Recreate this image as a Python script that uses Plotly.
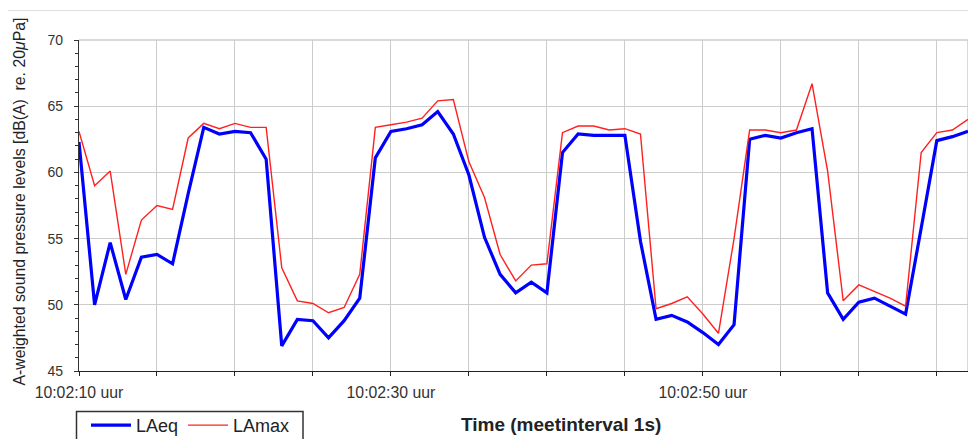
import plotly.graph_objects as go

# seconds after 10:02:10
seconds = list(range(58))

laeq = [62.3, 50.0, 54.7, 50.4, 53.6, 53.8, 53.1, 58.4, 63.4, 62.9,
        63.1, 63.0, 61.0, 46.9, 48.9, 48.8, 47.5, 48.8, 50.5, 61.1,
        63.1, 63.3, 63.6, 64.6, 62.9, 59.8, 55.1, 52.3, 50.9, 51.7,
        50.9, 61.5, 62.9, 62.8, 62.8, 62.8, 54.8, 48.9, 49.2, 48.7,
        47.9, 47.0, 48.5, 62.5, 62.8, 62.6, 63.0, 63.3, 50.9, 48.9,
        50.2, 50.5, 49.9, 49.3, 55.8, 62.4, 62.7, 63.1]

lamax = [63.1, 59.0, 60.1, 52.3, 56.4, 57.5, 57.2, 62.6, 63.7, 63.3,
         63.7, 63.4, 63.4, 52.8, 50.3, 50.1, 49.4, 49.8, 52.3, 63.4,
         63.6, 63.8, 64.1, 65.4, 65.5, 60.8, 58.1, 53.8, 51.8, 53.0,
         53.1, 63.0, 63.5, 63.5, 63.2, 63.3, 62.9, 49.7, 50.1, 50.6,
         49.3, 47.85, 55.0, 63.2, 63.2, 63.0, 63.2, 66.7, 60.1, 50.3,
         51.5, 51.0, 50.5, 49.9, 61.5, 63.0, 63.2, 64.0]

tick_vals = [0, 5, 10, 15, 20, 25, 30, 35, 40, 45, 50, 55]
tick_text = ["10:02:10 uur", "", "", "", "10:02:30 uur", "", "", "",
             "10:02:50 uur", "", "", ""]

# page body has an 8px margin: the figure sits at (8, 8) in the window
OFF = 8
SW, SH = 976, 439
W, H = SW - OFF, SH - OFF
# plot area in window pixels
L, R, T, B = 79, 968, 39.5, 371.5


def px(x):
    return (x - L) / (R - L)


def py(y):
    return (B - y) / (B - T)


fig = go.Figure()
fig.add_trace(go.Scatter(x=seconds, y=laeq, mode="lines", name="LAeq",
                         line=dict(color="#0000ff", width=3.2)))
fig.add_trace(go.Scatter(x=seconds, y=lamax, mode="lines", name="LAmax",
                         line=dict(color="#ff2020", width=1.4)))

grid = "#cccccc"
fig.update_layout(
    width=W, height=H,
    margin=dict(l=L - OFF, r=SW - R, t=T - OFF, b=SH - B, pad=0, autoexpand=False),
    paper_bgcolor="white", plot_bgcolor="white",
    font=dict(family="Liberation Sans, Arial, sans-serif", color="#333333"),
    showlegend=True,
    legend=dict(orientation="h", x=px(86), y=py(407.5), xanchor="left", yanchor="top",
                borderwidth=0, bgcolor="rgba(0,0,0,0)", itemwidth=40,
                font=dict(size=18, color="#222222"), traceorder="normal"),
    xaxis=dict(range=[0, 57], tickmode="array", tickvals=tick_vals, ticktext=tick_text,
               showgrid=True, gridcolor=grid, gridwidth=1.3,
               showline=True, linecolor="#222222", linewidth=1.3,
               ticks="outside", ticklen=4, tickcolor="#222222", tickwidth=1.3,
               tickfont=dict(size=15.8, color="#333333"), ticklabelstandoff=3,
               zeroline=False, automargin=False),
    yaxis=dict(range=[45, 70], dtick=5, tick0=45,
               showgrid=True, gridcolor=grid, gridwidth=1.3,
               showline=True, linecolor="#333333", linewidth=1.3,
               ticks="outside", ticklen=4, tickcolor="#333333", tickwidth=1.2,
               minor=dict(dtick=1, ticks="outside", ticklen=3, tickcolor="#333333",
                          showgrid=False),
               tickfont=dict(size=14, color="#333333"), ticklabelstandoff=8,
               zeroline=False, automargin=False),
    shapes=[
        dict(type="line", xref="paper", yref="paper", x0=0, x1=1, y0=1, y1=1,
             line=dict(color=grid, width=1.5), layer="below"),
        dict(type="line", xref="paper", yref="paper", x0=1, x1=1, y0=0, y1=1,
             line=dict(color=grid, width=1.5), layer="below"),
        dict(type="rect", xref="paper", yref="paper", x0=px(5), x1=px(974),
             y0=py(450), y1=py(10), line=dict(color="#dddddd", width=1)),
        dict(type="rect", xref="paper", yref="paper", x0=px(76.5), x1=px(303),
             y0=py(450), y1=py(412), line=dict(color="#333333", width=1.5)),
    ],
    annotations=[
        dict(text="A-weighted sound pressure levels [dB(A)  re. 20<i>μ</i>Pa]",
             textangle=-90, xref="paper", yref="paper", x=px(19), y=py(388),
             xanchor="center", yanchor="bottom", showarrow=False,
             font=dict(size=15.8, color="#222222")),
        dict(text="<b>Time (meetinterval 1s)</b>", xref="paper", yref="paper",
             x=px(561), y=py(425), xanchor="center", yanchor="middle",
             showarrow=False, font=dict(size=19, color="#222222")),
    ],
)

fig.write_html("out.html")
